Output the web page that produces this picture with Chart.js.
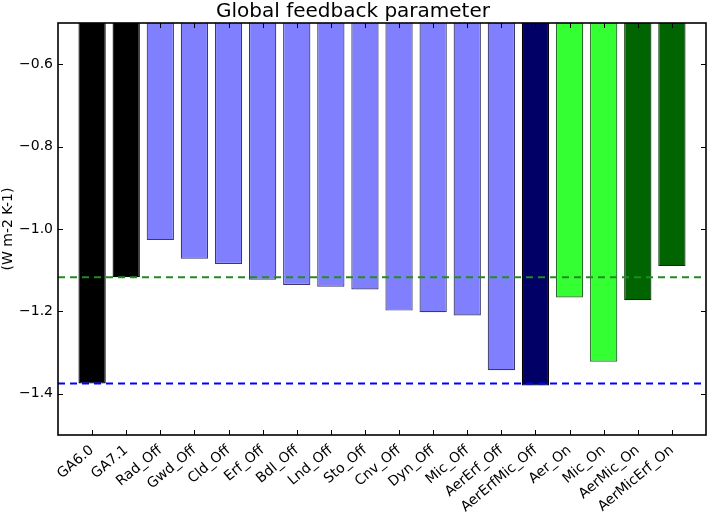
<!DOCTYPE html>
<html lang="en">
<head>
  <meta charset="UTF-8">
  <title>Global feedback parameter</title>
  <script src="https://cdn.jsdelivr.net/npm/chart.js"></script>
  <style>
    html, body {
      margin: 0;
      padding: 0;
      background: #fff;
    }
    #wrap {
      width: 709px;
      height: 512px;
    }
  </style>
</head>
<body>

<div id="wrap">
  <canvas id="myChart" width="709" height="512"></canvas>
</div>

<script>
  const categories = ['GA6.0', 'GA7.1', 'Rad_Off', 'Gwd_Off', 'Cld_Off', 'Erf_Off', 'Bdl_Off', 'Lnd_Off',
    'Sto_Off', 'Cnv_Off', 'Dyn_Off', 'Mic_Off', 'AerErf_Off', 'AerErfMic_Off', 'Aer_On', 'Mic_On',
    'AerMic_On', 'AerMicErf_On'];
  const values = [-1.375, -1.117, -1.027, -1.072, -1.085, -1.123, -1.136, -1.140,
    -1.147, -1.198, -1.202, -1.210, -1.343, -1.380, -1.166, -1.322, -1.173, -1.090];
  const barColors = ['#000000', '#000000', '#8080ff', '#8080ff', '#8080ff', '#8080ff', '#8080ff', '#8080ff',
    '#8080ff', '#8080ff', '#8080ff', '#8080ff', '#8080ff', '#000066', '#33ff33', '#33ff33', '#006400', '#006400'];
  const edgeColors = ['#000000', '#000000', '#3a3a6a', '#3a3a6a', '#3a3a6a', '#3a3a6a', '#3a3a6a', '#3a3a6a',
    '#3a3a6a', '#3a3a6a', '#3a3a6a', '#3a3a6a', '#3a3a6a', '#000000', '#2a6a2a', '#2a6a2a', '#003300', '#003300'];
  const refLines = [
    { value: -1.117, color: '#228b22' },  // GA7.1
    { value: -1.375, color: '#0000ff' }   // GA6.0
  ];
  const yTicks = [-1.4, -1.2, -1.0, -0.8, -0.6];

  const fmt = v => (v < 0 ? '\u2212' : '') + Math.abs(v).toFixed(1);

  // inward ticks on all four sides + black frame, like the original
  const frame = {
    id: 'frame',
    afterDraw(chart) {
      const { ctx, chartArea: a, scales } = chart;
      ctx.save();
      ctx.strokeStyle = '#000';
      ctx.lineWidth = 1;
      categories.forEach((c, i) => {
        const x = Math.round(scales.x.getPixelForValue(i)) + 0.5;
        ctx.beginPath();
        ctx.moveTo(x, a.bottom); ctx.lineTo(x, a.bottom - 5);
        ctx.moveTo(x, a.top); ctx.lineTo(x, a.top + 5);
        ctx.stroke();
      });
      yTicks.forEach(v => {
        const y = Math.round(scales.y.getPixelForValue(v)) + 0.5;
        ctx.beginPath();
        ctx.moveTo(a.left, y); ctx.lineTo(a.left + 5, y);
        ctx.moveTo(a.right, y); ctx.lineTo(a.right - 5, y);
        ctx.stroke();
      });
      ctx.lineWidth = 1.6;
      ctx.strokeRect(a.left, a.top, a.right - a.left, a.bottom - a.top);
      ctx.restore();
    }
  };

  const ctx = document.getElementById('myChart').getContext('2d');
  const myChart = new Chart(ctx, {
    type: 'bar',
    data: {
      datasets: [
        {
          type: 'bar',
          data: values.map((v, i) => ({ x: i, y: v })),
          backgroundColor: barColors,
          borderColor: edgeColors,
          borderWidth: 1.2,
          borderSkipped: false,
          barPercentage: 0.8,
          categoryPercentage: 1.0,
          order: 2
        },
        ...refLines.map(r => ({
          type: 'line',
          data: [{ x: -1, y: r.value }, { x: 18, y: r.value }],
          borderColor: r.color,
          borderWidth: 2,
          borderDash: [7, 5],
          pointRadius: 0,
          fill: false,
          order: 1
        }))
      ]
    },
    options: {
      responsive: false,
      animation: false,
      layout: { padding: { right: 3 } },
      plugins: {
        legend: { display: false },
        tooltip: { enabled: false },
        title: {
          display: true,
          text: 'Global feedback parameter',
          color: '#000',
          font: { family: 'DejaVu Sans', size: 20, weight: 'normal', lineHeight: 1.1 },
          padding: { top: 1, bottom: 0 }
        }
      },
      scales: {
        x: {
          type: 'linear',
          offset: false,
          min: -1,
          max: 18,
          afterFit: s => { s.height = 77; },
          afterBuildTicks: s => { s.ticks = categories.map((c, i) => ({ value: i })); },
          grid: { display: false, drawTicks: false, offset: false },
          border: { display: false },
          ticks: {
            autoSkip: false,
            minRotation: 40,
            maxRotation: 40,
            padding: 7,
            color: '#000',
            font: { family: 'DejaVu Sans', size: 14 },
            callback: v => categories[v]
          }
        },
        y: {
          min: -1.5,
          max: -0.5,
          afterFit: s => { s.width = 58; },
          afterBuildTicks: s => { s.ticks = yTicks.map(v => ({ value: v })); },
          grid: { display: false, drawTicks: false },
          border: { display: false },
          title: {
            display: true,
            text: '(W m-2 K-1)',
            color: '#000',
            font: { family: 'DejaVu Sans', size: 14 },
            padding: { top: 0, bottom: 0 }
          },
          ticks: {
            padding: 5,
            color: '#000',
            font: { family: 'DejaVu Sans', size: 14 },
            callback: v => fmt(v)
          }
        }
      }
    },
    plugins: [frame]
  });
</script>

</body>
</html>
